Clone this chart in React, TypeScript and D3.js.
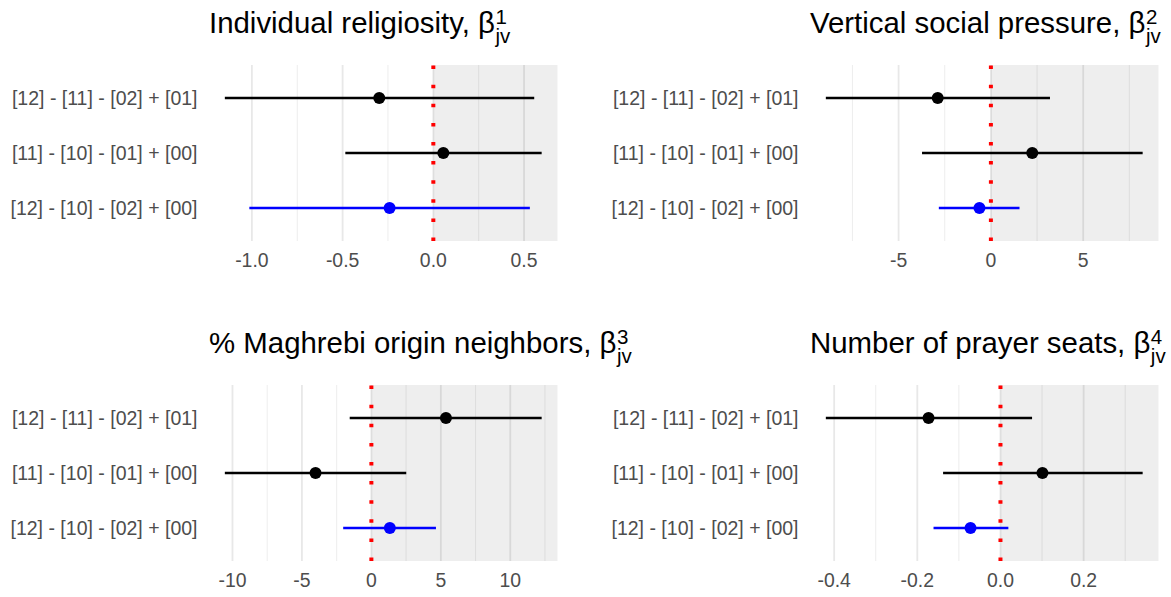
import React, { useEffect, useRef } from "react";
import * as d3 from "d3";

const categories = [
  "[12] - [11] - [02] + [01]",
  "[11] - [10] - [01] + [00]",
  "[12] - [10] - [02] + [00]",
];
const rowColors = ["#000000", "#000000", "#0000FF"];

const titleTexts = [
  "Individual religiosity, ",
  "Vertical social pressure, ",
  "% Maghrebi origin neighbors, ",
  "Number of prayer seats, ",
];
const titleSuperscripts = ["1", "2", "3", "4"];
const titleSubscript = "jv";

const religiosityEst = [-0.298, 0.055, -0.241];
const religiosityLow = [-1.149, -0.485, -1.014];
const religiosityHigh = [0.556, 0.597, 0.532];
const religiosityTicks = [-1.0, -0.5, 0.0, 0.5];
const religiosityTickLabels = ["-1.0", "-0.5", "0.0", "0.5"];

const pressureEst = [-2.88, 2.24, -0.62];
const pressureLow = [-8.94, -3.73, -2.82];
const pressureHigh = [3.2, 8.22, 1.55];
const pressureTicks = [-5, 0, 5];
const pressureTickLabels = ["-5", "0", "5"];

const maghrebiEst = [5.37, -4.02, 1.33];
const maghrebiLow = [-1.56, -10.55, -2.03];
const maghrebiHigh = [12.26, 2.51, 4.65];
const maghrebiTicks = [-10, -5, 0, 5, 10];
const maghrebiTickLabels = ["-10", "-5", "0", "5", "10"];

const seatsEst = [-0.173, 0.101, -0.072];
const seatsLow = [-0.42, -0.138, -0.161];
const seatsHigh = [0.076, 0.342, 0.019];
const seatsTicks = [-0.4, -0.2, 0.0, 0.2];
const seatsTickLabels = ["-0.4", "-0.2", "0.0", "0.2"];

const W = 1171;
const H = 597;
const FONT = "'Liberation Sans', Arial, Helvetica, sans-serif";

export default function App() {
  const ref = useRef<SVGSVGElement | null>(null);

  useEffect(() => {
    const svg = d3.select(ref.current);
    svg.selectAll("*").remove();

    const panels = [
      { est: religiosityEst, low: religiosityLow, high: religiosityHigh, ticks: religiosityTicks, labels: religiosityTickLabels, left: 209, top: 65 },
      { est: pressureEst, low: pressureLow, high: pressureHigh, ticks: pressureTicks, labels: pressureTickLabels, left: 810, top: 65 },
      { est: maghrebiEst, low: maghrebiLow, high: maghrebiHigh, ticks: maghrebiTicks, labels: maghrebiTickLabels, left: 209, top: 385 },
      { est: seatsEst, low: seatsLow, high: seatsHigh, ticks: seatsTicks, labels: seatsTickLabels, left: 810, top: 385 },
    ];
    const pw = 348.5;
    const ph = 176;

    panels.forEach((p, i) => {
      const g = svg.append("g");
      const lo = Math.min(d3.min(p.low)!, 0);
      const hi = Math.max(d3.max(p.high)!, 0);
      const r = hi - lo;
      const x = d3.scaleLinear().domain([lo - 0.05 * r, hi + 0.05 * r]).range([p.left, p.left + pw]);
      const y = d3.scalePoint<string>().domain(categories).range([p.top, p.top + ph]).padding(0.6);
      const [d0, d1] = x.domain();

      // minor breaks
      const step = p.ticks[1] - p.ticks[0];
      const minors: number[] = [];
      for (let k = -1; k < p.ticks.length; k++) {
        const m = p.ticks[0] + (k + 0.5) * step;
        if (m >= d0 && m <= d1) minors.push(m);
      }

      g.selectAll("line.minor").data(minors).enter().append("line")
        .attr("x1", (d) => x(d)).attr("x2", (d) => x(d))
        .attr("y1", p.top).attr("y2", p.top + ph)
        .attr("stroke", "#EBEBEB").attr("stroke-width", 0.9);
      g.selectAll("line.major").data(p.ticks).enter().append("line")
        .attr("x1", (d) => x(d)).attr("x2", (d) => x(d))
        .attr("y1", p.top).attr("y2", p.top + ph)
        .attr("stroke", "#E8E8E8").attr("stroke-width", 1.8);

      // shaded positive region
      g.append("rect")
        .attr("x", x(0)).attr("y", p.top)
        .attr("width", x(d1) - x(0)).attr("height", ph)
        .attr("fill", "#000000").attr("fill-opacity", 0.066);

      // zero line
      g.append("line")
        .attr("x1", x(0)).attr("x2", x(0))
        .attr("y1", p.top + ph).attr("y2", p.top)
        .attr("stroke", "#FF0000").attr("stroke-width", 4)
        .attr("stroke-dasharray", "3.5,15.6");

      // error bars
      categories.forEach((c, j) => {
        g.append("line")
          .attr("x1", x(p.low[j])).attr("x2", x(p.high[j]))
          .attr("y1", y(c)!).attr("y2", y(c)!)
          .attr("stroke", rowColors[j]).attr("stroke-width", 2.3);
      });
      categories.forEach((c, j) => {
        g.append("circle")
          .attr("cx", x(p.est[j])).attr("cy", y(c)!)
          .attr("r", 6).attr("fill", rowColors[j]);
      });

      // y labels
      categories.forEach((c) => {
        g.append("text")
          .attr("x", p.left - 11.5).attr("y", y(c)!)
          .attr("dy", "0.36em")
          .attr("text-anchor", "end")
          .attr("font-family", FONT).attr("font-size", 19.5)
          .attr("fill", "#4D4D4D")
          .text(c);
      });

      // x tick labels
      p.ticks.forEach((t, j) => {
        g.append("text")
          .attr("x", x(t)).attr("y", p.top + ph + 25.5)
          .attr("text-anchor", "middle")
          .attr("font-family", FONT).attr("font-size", 19.4)
          .attr("fill", "#4D4D4D")
          .text(p.labels[j]);
      });

      // title
      const base = p.top - 31.7;
      const t = g.append("text")
        .attr("x", p.left).attr("y", base)
        .attr("font-family", FONT).attr("font-size", 29.4)
        .attr("fill", "#000000")
        .text(titleTexts[i] + "β");
      const tw = (t.node() as SVGTextElement).getComputedTextLength();
      const sx = p.left + tw + 0.5;
      g.append("text")
        .attr("x", sx).attr("y", base - 9)
        .attr("font-family", FONT).attr("font-size", 20.5)
        .attr("fill", "#000000")
        .text(titleSuperscripts[i]);
      g.append("text")
        .attr("x", sx).attr("y", base + 9.5)
        .attr("font-family", FONT).attr("font-size", 20.5)
        .attr("fill", "#000000")
        .text(titleSubscript);
    });
  }, []);

  return (
    <svg
      ref={ref}
      width={W}
      height={H}
      style={{ position: "absolute", left: 0, top: 0, background: "#FFFFFF" }}
    />
  );
}
